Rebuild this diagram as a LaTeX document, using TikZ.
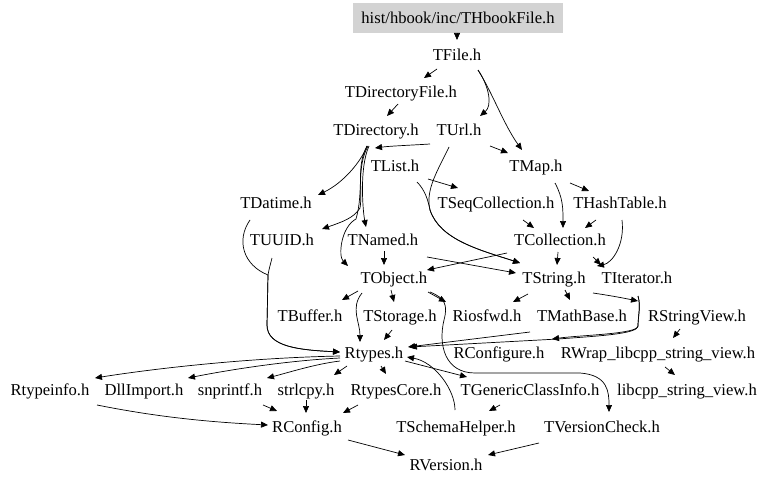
\documentclass[tikz,border=0pt]{standalone}
\usepackage{fontspec}
\setmainfont{Liberation Serif}
\usetikzlibrary{arrows.meta}
\definecolor{boxgray}{HTML}{D3D3D3}
\tikzset{
  lbl/.style={font=\fontsize{16.6}{18}\selectfont, inner sep=0pt, text height=11pt, text depth=0pt},
  rootbox/.style={fill=boxgray, minimum width=210pt, minimum height=30pt},
  e/.style={draw=black, line width=0.7pt, -{Triangle[length=7pt,width=6pt]}}
}
\begin{document}
\begin{tikzpicture}[x=1pt,y=-1pt]
\useasboundingbox (0,0) rectangle (768,484);
\fill[white] (0,0) rectangle (768,484);
% nodes
\node[lbl,rootbox] (hb) at (458,18) {hist/hbook/inc/THbookFile.h};
\node[lbl] (TFile) at (457,55) {TFile.h};
\node[lbl] (TDirectoryFile) at (401,92) {TDirectoryFile.h};
\node[lbl] (TDirectory) at (376,130) {TDirectory.h};
\node[lbl] (TUrl) at (459,130) {TUrl.h};
\node[lbl] (TList) at (395,166) {TList.h};
\node[lbl] (TMap) at (536,166) {TMap.h};
\node[lbl] (TDatime) at (276,203) {TDatime.h};
\node[lbl] (TSeqCollection) at (496,203) {TSeqCollection.h};
\node[lbl] (THashTable) at (620,203) {THashTable.h};
\node[lbl] (TUUID) at (282,240) {TUUID.h};
\node[lbl] (TNamed) at (383,240) {TNamed.h};
\node[lbl] (TCollection) at (560,240) {TCollection.h};
\node[lbl] (TObject) at (394,278) {TObject.h};
\node[lbl] (TString) at (554,278) {TString.h};
\node[lbl] (TIterator) at (637,278) {TIterator.h};
\node[lbl] (TBuffer) at (310,316) {TBuffer.h};
\node[lbl] (TStorage) at (400,316) {TStorage.h};
\node[lbl] (Riosfwd) at (487,316) {Riosfwd.h};
\node[lbl] (TMathBase) at (582,316) {TMathBase.h};
\node[lbl] (RStringView) at (697,316) {RStringView.h};
\node[lbl] (Rtypes) at (374,353) {Rtypes.h};
\node[lbl] (RConfigure) at (499,353) {RConfigure.h};
\node[lbl] (RWrap) at (658,353) {RWrap\_libcpp\_string\_view.h};
\node[lbl] (Rtypeinfo) at (50,390) {Rtypeinfo.h};
\node[lbl] (DllImport) at (144,390) {DllImport.h};
\node[lbl] (snprintf) at (230,390) {snprintf.h};
\node[lbl] (strlcpy) at (306,390) {strlcpy.h};
\node[lbl] (RtypesCore) at (396,390) {RtypesCore.h};
\node[lbl] (TGCI) at (530,390) {TGenericClassInfo.h};
\node[lbl] (libcpp) at (687,390) {libcpp\_string\_view.h};
\node[lbl] (RConfig) at (307,427) {RConfig.h};
\node[lbl] (TSchemaHelper) at (456,427) {TSchemaHelper.h};
\node[lbl] (TVersionCheck) at (602,427) {TVersionCheck.h};
\node[lbl] (RVersion) at (446,465) {RVersion.h};
% edges
\draw[e] ([shift={(-1,15)}]hb.center) -- ([shift={(0,-15)}]TFile.center);
\draw[e] ([shift={(-20,14)}]TFile.center) -- ([shift={(23,-14)}]TDirectoryFile.center);
\draw[e] ([shift={(21,15)}]TFile.center) .. controls +(12,18) and +(12,-10) .. ([shift={(21,-14)}]TUrl.center);
\draw[e] ([shift={(21,15)}]TFile.center) .. controls +(14,22) and +(-18,-25) .. ([shift={(-14,-16)}]TMap.center);
\draw[e] ([shift={(-3,12)}]TDirectoryFile.center) -- ([shift={(11,-14)}]TDirectory.center);
\draw[e] ([shift={(31,16)}]TUrl.center) -- ([shift={(-28,-13)}]TMap.center);
\draw[e] ([shift={(54,14)}]TDirectory.center) .. controls +(-15,1) and +(15,-2) .. ([shift={(-20,-18)}]TList.center);
\draw[e] ([shift={(-9,16)}]TDirectory.center) .. controls +(-6,16) and +(25,-12) .. ([shift={(42,-8)}]TDatime.center);
\draw[e] ([shift={(-9,16)}]TDirectory.center) .. controls +(-11,20) and +(3,-18) .. ++(-7,62) .. controls +(-6,10) and +(20,-7) .. ([shift={(40,-11)}]TUUID.center);
\draw[e] ([shift={(-7,16)}]TDirectory.center) .. controls +(-10,22) and +(-3,-15) .. ([shift={(-17,-13)}]TNamed.center);
\draw[e] ([shift={(-8,16)}]TDirectory.center) .. controls +(-12,22) and +(8,-28) .. ++(-12,73) .. controls +(-15,8) and +(-10,-10) .. ([shift={(-46,-12)}]TObject.center);
\draw[e] ([shift={(33,13)}]TList.center) -- ([shift={(-38,-15)}]TSeqCollection.center);
\draw[e] ([shift={(-10,17)}]TUrl.center) .. controls +(-11,23) and +(-5,-20) .. ++(-19,63) .. controls +(10,30) and +(-40,-13) .. ([shift={(-34,-15)}]TString.center);
\draw[e] ([shift={(22,16)}]TList.center) .. controls +(8,8) and +(-2,-10) .. ++(13,28) .. controls +(10,30) and +(-40,-13) .. ([shift={(-34,-15)}]TString.center);
\draw[e] ([shift={(19,17)}]TMap.center) .. controls +(8,15) and +(0,-20) .. ([shift={(3,-12)}]TCollection.center);
\draw[e] ([shift={(34,17)}]TMap.center) -- ([shift={(-31,-12)}]THashTable.center);
\draw[e] ([shift={(27,17)}]TSeqCollection.center) -- ([shift={(-26,-12)}]TCollection.center);
\draw[e] ([shift={(-24,17)}]THashTable.center) -- ([shift={(25,-12)}]TCollection.center);
\draw[e] ([shift={(2,17)}]THashTable.center) .. controls +(3,25) and +(15,-3) .. ([shift={(-40,-12)}]TIterator.center);
\draw[e] ([shift={(-53,13)}]TCollection.center) -- ([shift={(33,-8)}]TObject.center);
\draw[e] ([shift={(44,17)}]TNamed.center) -- ([shift={(-38,-5)}]TString.center);
\draw[e] ([shift={(-2,12)}]TCollection.center) -- ([shift={(3,-13)}]TString.center);
\draw[e] ([shift={(33,17)}]TCollection.center) -- ([shift={(-36,-13)}]TIterator.center);
\draw[e] ([shift={(1,11)}]TNamed.center) -- ([shift={(-10,-13)}]TObject.center);
\draw[e] ([shift={(-36,13)}]TObject.center) -- ([shift={(32,-16)}]TBuffer.center);
\draw[e] ([shift={(-32,15)}]TObject.center) .. controls +(-12,15) and +(0,-20) .. ([shift={(-14,-11)}]Rtypes.center);
\draw[e] ([shift={(-3,12)}]TObject.center) -- ([shift={(-6,-14)}]TStorage.center);
\draw[e] ([shift={(-8,14)}]TStorage.center) -- ([shift={(10,-13)}]Rtypes.center);
\draw[e] ([shift={(34,14)}]TObject.center) -- ([shift={(-41,-14)}]Riosfwd.center);
\draw[e] ([shift={(36,14)}]TObject.center) .. controls +(15,6) and +(4,-15) .. ++(14,28) .. controls +(-6,25) and +(-30,0) .. ++(31,53) -- ++(105,0) .. controls +(28,2) and +(0,-20) .. ([shift={(7,-15)}]TVersionCheck.center);
\draw[e] ([shift={(-26,16)}]TString.center) -- ([shift={(26,-14)}]Riosfwd.center);
\draw[e] ([shift={(11,12)}]TString.center) -- ([shift={(-12,-16)}]TMathBase.center);
\draw[e] ([shift={(39,15)}]TString.center) .. controls +(20,3) and +(-15,-3) .. ([shift={(-59,-15)}]RStringView.center);
\draw[e] ([shift={(-59,-20)}]RStringView.center) .. controls +(3,10) and +(0,-10) .. ++(0,30) .. controls +(0,8) and +(30,-4) .. ([shift={(53,-14)}]RConfigure.center);
\draw[e] ([shift={(-59,-20)}]RStringView.center) .. controls +(3,10) and +(0,-10) .. ++(0,30) .. controls +(0,8) and +(40,-3) .. ++(-80,13) -- ([shift={(36,-6)}]Rtypes.center);
\draw[e] ([shift={(-52,16)}]TMathBase.center) -- ([shift={(34,-6)}]Rtypes.center);
\draw[e] ([shift={(-17,13)}]RStringView.center) -- ([shift={(15,-15)}]RWrap.center);
\draw[e] ([shift={(7,14)}]RWrap.center) -- ([shift={(-12,-15)}]libcpp.center);
\draw[e] ([shift={(-34,3)}]Rtypes.center) .. controls +(-100,2) and +(50,-8) .. ([shift={(45,-12)}]Rtypeinfo.center);
\draw[e] ([shift={(-34,5)}]Rtypes.center) .. controls +(-60,3) and +(30,-6) .. ([shift={(44,-12)}]DllImport.center);
\draw[e] ([shift={(-34,8)}]Rtypes.center) .. controls +(-25,3) and +(20,-5) .. ([shift={(37,-12)}]snprintf.center);
\draw[e] ([shift={(-27,13)}]Rtypes.center) -- ([shift={(28,-15)}]strlcpy.center);
\draw[e] ([shift={(7,13)}]Rtypes.center) -- ([shift={(-10,-16)}]RtypesCore.center);
\draw[e] ([shift={(31,8)}]Rtypes.center) -- ([shift={(-63,-13)}]TGCI.center);
\draw[e] ([shift={(-1,-17)}]TSchemaHelper.center) .. controls +(0,-20) and +(28,5) .. ([shift={(33,4)}]Rtypes.center);
\draw[e] ([shift={(-30,15)}]TGCI.center) -- ([shift={(33,-16)}]TSchemaHelper.center);
\draw[e] ([shift={(0,10)}]strlcpy.center) -- ([shift={(-1,-14)}]RConfig.center);
\draw[e] ([shift={(33,15)}]snprintf.center) -- ([shift={(-30,-16)}]RConfig.center);
\draw[e] ([shift={(-38,15)}]RtypesCore.center) -- ([shift={(36,-14)}]RConfig.center);
\draw[e] ([shift={(47,15)}]Rtypeinfo.center) .. controls +(60,12) and +(-60,-3) .. ([shift={(-39,-2)}]RConfig.center);
\draw[e] ([shift={(41,13)}]RConfig.center) -- ([shift={(-41,-10)}]RVersion.center);
\draw[e] ([shift={(-63,16)}]TVersionCheck.center) -- ([shift={(42,-10)}]RVersion.center);
\draw[e] ([shift={(-26,17)}]TDatime.center) .. controls +(-14,20) and +(-25,-10) .. ++(18,55) -- ++(-1,50) .. controls +(0,22) and +(-40,-2) .. ([shift={(-34,-1)}]Rtypes.center);
\draw[e] ([shift={(-10,18)}]TUUID.center) .. controls +(-2,8) and +(1,-6) .. ++(-4,17) -- ++(-1,50) .. controls +(0,22) and +(-40,-2) .. ([shift={(-34,-1)}]Rtypes.center);
\end{tikzpicture}
\end{document}
